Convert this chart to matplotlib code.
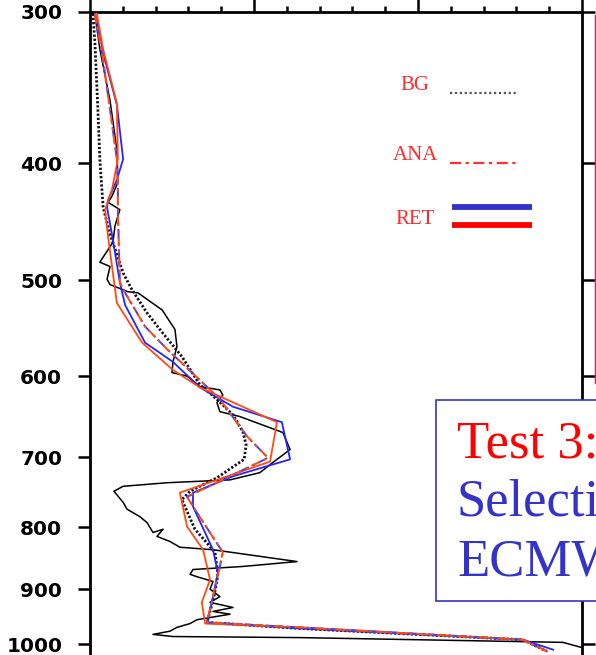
import matplotlib
matplotlib.use("Agg")
import matplotlib.pyplot as plt
from matplotlib.lines import Line2D
from matplotlib.patches import Rectangle
from matplotlib.ticker import MultipleLocator, NullLocator, FixedLocator

# pressure levels on the y axis (hPa)
levels = [300, 400, 500, 600, 700, 800, 900, 1000]
level_labels = ["300", "400", "500", "600", "700", "800", "900", "1000"]

# observed profile (black solid)
obs_x = [0.15, 0.30, 0.61, 0.82, 0.85, 0.67, 0.55, 0.91, 0.76, 0.70, 0.30, 0.61, 0.52, 0.61,
         1.16, 1.46, 2.20, 2.59, 2.65, 2.53, 2.50, 2.96, 3.35, 3.96, 4.05, 3.87, 3.96, 4.57,
         5.88, 6.10, 5.58, 5.18, 4.27, 2.35, 1.01, 0.73, 1.01, 1.13, 1.52, 1.74, 1.92, 2.23,
         2.04, 2.44, 2.74, 3.75, 6.31, 4.66, 3.14, 3.05, 3.26, 3.75, 3.66, 3.96, 3.66, 4.36,
         3.75, 4.27, 3.66, 3.26, 3.05, 2.65, 2.44, 1.92, 2.53, 6.40, 14.42, 15.0]
obs_p = [301, 322, 355, 390, 415, 426, 431, 437, 451, 465, 483, 487, 499, 504,
         511, 512, 529, 549, 567, 584, 596, 600, 612, 616, 622, 631, 642, 648,
         668, 690, 707, 721, 731, 735, 740, 747, 763, 773, 784, 793, 808, 803,
         814, 822, 831, 835, 854, 862, 867, 875, 879, 887, 900, 913, 923, 932,
         939, 944, 950, 954, 961, 968, 975, 981, 985, 987, 996, 1006]

# background (black dotted)
bg_x = [0.09, 0.15, 0.24, 0.30, 0.40, 0.61, 1.01, 1.28, 1.74, 2.20, 2.80, 3.35, 3.87, 4.36,
        4.66, 4.76, 4.70, 3.87, 3.05, 2.80, 3.20, 3.81, 3.90, 3.78, 3.57, 6.40, 13.20, 13.93]
bg_p = [301, 318, 361, 397, 435, 458, 493, 509, 532, 552, 578, 610, 627, 646,
        667, 684, 703, 728, 747, 759, 803, 839, 875, 913, 959, 970, 991, 1013]

# analysis (dash-dot)
ana_x = [0.15, 0.40, 0.61, 0.82, 0.85, 0.85, 0.91, 1.07, 1.68, 2.38, 3.11, 3.96, 4.79, 5.43,
         2.96, 3.26, 4.05, 3.96, 3.75, 3.57, 6.40, 13.20, 13.93]
ana_p = [301, 329, 361, 397, 418, 437, 502, 512, 546, 571, 596, 627, 673, 701,
         755, 778, 839, 862, 913, 959, 968, 991, 1013]

# retrieval, blue
ret_b_x = [0.15, 0.46, 0.82, 1.01, 0.82, 0.55, 0.52, 0.70, 0.91, 1.07, 1.68, 2.53, 3.35, 4.36,
           5.85, 6.10, 4.36, 3.14, 3.14, 3.75, 3.90, 3.75, 3.57, 6.40, 13.20, 14.12]
ret_b_p = [301, 329, 358, 397, 413, 429, 435, 463, 502, 524, 563, 584, 613, 636,
           655, 703, 726, 749, 769, 835, 872, 913, 959, 970, 991, 1010]

# retrieval, red
ret_r_x = [0.21, 0.40, 0.82, 0.85, 0.67, 0.46, 0.55, 0.82, 1.59, 2.53, 3.35, 5.70, 5.49, 2.74,
           2.96, 3.45, 3.66, 3.41, 3.51, 6.40, 13.20, 13.93]
ret_r_p = [301, 322, 357, 397, 421, 437, 460, 522, 563, 593, 613, 655, 706, 749,
           799, 835, 884, 923, 961, 968, 991, 1013]

W, H = 596, 655


def fxy(px, py):
    # pixel position -> figure fraction
    return px / W, 1 - py / H


fig = plt.figure(figsize=(W / 100, H / 100), dpi=100)
ax = fig.add_axes([90 / W, 1 - 660 / H, 492 / W, 648 / H])

ax.plot(obs_x, obs_p, color="black", lw=1.1, zorder=3)
ax.plot(bg_x, bg_p, color="#111111", lw=2.0, ls=(0, (0.8, 0.7)), dash_capstyle="butt", zorder=4)
ax.plot(ret_b_x, ret_b_p, color="#2424ff", lw=1.3, zorder=5)
ax.plot(ret_r_x, ret_r_p, color="#ff4a12", lw=1.3, zorder=6)
ax.plot(ana_x, ana_p, color="#3344ff", lw=1.4, ls=(4, (5, 2, 1.5, 2)), zorder=7)
ax.plot(ana_x, ana_p, color="#ff4a12", lw=1.4, ls=(0, (5, 2, 1.5, 2)), zorder=8)

ax.set_yscale("log")
ax.set_ylim(1030, 300)
ax.set_xlim(0, 15)

ax.yaxis.set_major_locator(FixedLocator(levels))
ax.yaxis.set_minor_locator(NullLocator())
ax.set_yticklabels(level_labels, fontfamily="DejaVu Sans", fontweight="bold", fontsize=14.5)
ax.tick_params(axis="y", which="major", direction="out", length=9, width=1.8,
               left=True, right=True, labelleft=True, labelright=False, pad=11)

ax.xaxis.tick_top()
ax.xaxis.set_major_locator(MultipleLocator(5))
ax.xaxis.set_minor_locator(MultipleLocator(1))
ax.tick_params(axis="x", which="major", direction="out", length=10, width=1.8,
               top=True, bottom=False, labeltop=False, labelbottom=False)
ax.tick_params(axis="x", which="minor", direction="out", length=4.5, width=1.8,
               top=True, bottom=False)
for s in ax.spines.values():
    s.set_linewidth(2.0)

# legend
serif = "Liberation Serif"
for label, (px, py) in [("BG", (415, 86)), ("ANA", (415, 156)), ("RET", (415, 219))]:
    fig.text(*fxy(px, py), label, color="#ff2a2a", fontsize=15, family=serif,
             ha="center", va="center")

x0, y0 = fxy(450, 92.5)
x1, _ = fxy(517, 92.5)
fig.add_artist(Line2D([x0, x1], [y0, y0], color="#555555", lw=1.6,
                      ls=(0, (1, 1.2)), dash_capstyle="butt"))
x0, y0 = fxy(450, 162.5)
fig.add_artist(Line2D([x0, x1], [y0, y0], color="#ff3030", lw=1.6, ls=(0, (5, 2, 1.5, 2))))
x0, y0 = fxy(452, 207.5)
x1, _ = fxy(532, 207.5)
fig.add_artist(Line2D([x0, x1], [y0, y0], color="#3333cc", lw=4.2, solid_capstyle="butt"))
_, y0 = fxy(452, 225)
fig.add_artist(Line2D([x0, x1], [y0, y0], color="#ff0000", lw=4.2, solid_capstyle="butt"))

# neighbouring panel border
xp, ya = fxy(595, 15)
_, yb = fxy(595, 383)
fig.add_artist(Line2D([xp, xp], [ya, yb], color="#d0205a", lw=1.0, zorder=2))

# text box
bx, by = fxy(436, 601)
fig.add_artist(Rectangle((bx, by), 200 / W, 201 / H, transform=fig.transFigure,
                         facecolor="white", edgecolor="#3333cc", lw=1.2, zorder=10))
for txt, col, base in [("Test 3:", "#ff0000", 457), ("Selection", "#3333cc", 516),
                       ("ECMWF", "#3333cc", 575)]:
    fig.text(*fxy(457, base), txt, color=col, fontsize=38, family=serif,
             ha="left", va="baseline", zorder=11)

fig.savefig("out.png", dpi=100)
